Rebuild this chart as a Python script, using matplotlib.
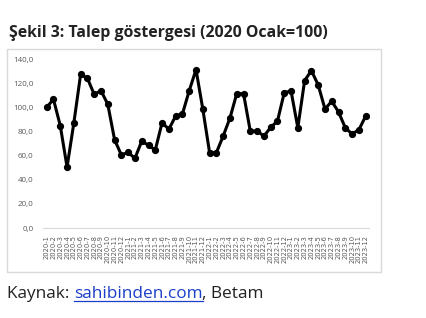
import matplotlib.pyplot as plt
from matplotlib.patches import Rectangle

# Talep göstergesi, 2020 Ocak = 100
months = [f"{y}-{m}" for y in (2020, 2021, 2022, 2023) for m in range(1, 13)]
values = [100.0, 106.6, 84.8, 50.5, 87.0, 127.3, 124.0, 110.7, 113.8, 102.5, 73.2, 60.5,
          62.7, 57.7, 72.0, 68.5, 64.6, 87.3, 81.8, 92.8, 94.5, 113.8, 131.2, 98.6,
          62.4, 62.4, 76.2, 91.1, 111.3, 111.3, 80.1, 80.6, 76.0, 83.4, 88.6, 112.1,
          113.5, 83.1, 122.1, 130.4, 118.5, 98.6, 105.0, 96.1, 82.9, 77.9, 81.4, 92.8]
yticks = [0, 20, 40, 60, 80, 100, 120, 140]

plt.rcParams['font.family'] = ['Open Sans', 'DejaVu Sans']

fig = plt.figure(figsize=(4.27, 3.18), dpi=100)

# chart frame
fig.patches.append(Rectangle((7 / 427, 1 - 272 / 318), 374 / 427, 223 / 318,
                             transform=fig.transFigure, fill=False,
                             edgecolor='#d9d9d9', linewidth=1))

ax = fig.add_axes([0.1014, 0.283, 0.763, 0.5314])
x = list(range(len(months)))
ax.plot(x, values, color='black', linewidth=2.2, marker='o', markersize=4.2)
ax.set_xlim(-0.5, len(months) - 0.5)
ax.set_ylim(0, 140)
ax.set_yticks(yticks)
ax.set_yticklabels([f"{v:.1f}".replace('.', ',') for v in yticks],
                   fontsize=5.8, color='#595959')
ax.set_xticks(x)
ax.set_xticklabels(months, rotation=90, fontsize=4.9, color='#595959',
                   family=['Liberation Sans Narrow', 'DejaVu Sans'])
ax.tick_params(axis='both', length=0, pad=5)
ax.tick_params(axis='y', pad=7)
for s in ['top', 'right', 'left']:
    ax.spines[s].set_visible(False)
ax.spines['bottom'].set_color('#d9d9d9')
ax.spines['bottom'].set_linewidth(0.8)

fig.text(9 / 427, 1 - 33 / 318, "Şekil 3: Talep göstergesi (2020 Ocak=100)",
         fontsize=11.4, fontweight='bold', va='center', ha='left', color='#222222')

# caption with link
renderer = fig.canvas.get_renderer()
yb = 1 - 298 / 318
fs = 12.4
t1 = fig.text(7 / 427, yb, "Kaynak: ", fontsize=fs, va='baseline', ha='left', color='#222222')
bb1 = t1.get_window_extent(renderer)
x2 = bb1.x1 / fig.bbox.width
t2 = fig.text(x2, yb, "sahibinden.com", fontsize=fs, va='baseline', ha='left', color='#1a3fc8')
bb2 = t2.get_window_extent(renderer)
x3 = bb2.x1 / fig.bbox.width
uy = 1 - 300.7 / 318
fig.lines.append(plt.Line2D([x2, x3], [uy, uy], transform=fig.transFigure,
                            color='#1a3fc8', linewidth=0.9))
fig.text(x3, yb, ", Betam", fontsize=fs, va='baseline', ha='left', color='#222222')

fig.savefig('out.png', dpi=100)
